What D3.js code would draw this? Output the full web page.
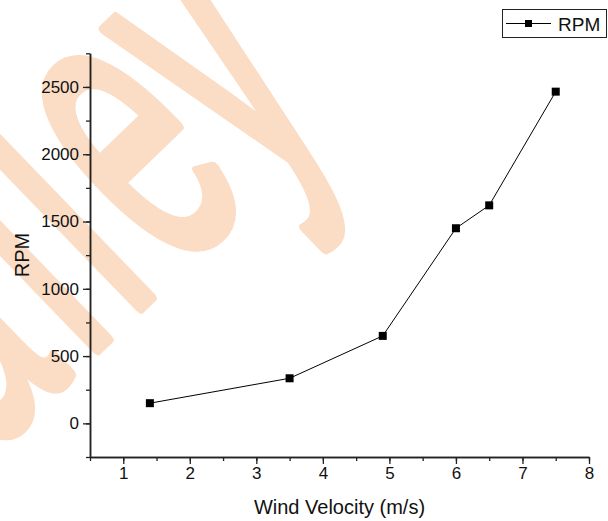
<!DOCTYPE html>
<html>
<head>
<meta charset="utf-8">
<script src="https://cdnjs.cloudflare.com/ajax/libs/d3/7.8.5/d3.min.js"></script>
<style>
  body { margin: 0; background: #fff; }
  svg { display: block; font-family: "Liberation Sans", Arial, sans-serif; }
</style>
</head>
<body>
<svg id="chart"></svg>
<script>
// chart data
var velocity = [1.4, 3.5, 4.9, 6.0, 6.5, 7.5];
var rpm = [150, 335, 650, 1450, 1620, 2465];
var xMajor = [1, 2, 3, 4, 5, 6, 7, 8];
var yMajor = [0, 500, 1000, 1500, 2000, 2500];
var xMinor = d3.range(0.5, 8.01, 0.5);
var yMinor = d3.range(-250, 2751, 250);
var seriesName = 'RPM';
var watermark = ['V', 'a', 'l', 'l', 'e', 'y'];
var watermarkX = [-930, -647, -375, -255, -130, 108];

var width = 608,
    height = 521,
    axisColor = '#222',
    wmColor = '#fbdcc5';

var svg = d3.select('#chart')
  .attr('width', width)
  .attr('height', height);

// faint background watermark: tall, narrow letters, rotated
var wm = svg.append('g')
  .attr('transform', 'translate(220,230) rotate(-44) scale(0.5,1)')
  .append('text')
    .attr('y', 0)
    .attr('font-size', 424)
    .attr('fill', wmColor)
    .attr('stroke', wmColor)
    .attr('stroke-width', 10)
    .attr('stroke-linejoin', 'round')
    .attr('vector-effect', 'non-scaling-stroke');
wm.selectAll('tspan')
  .data(watermark)
  .enter().append('tspan')
    .attr('x', function (d, i) { return watermarkX[i]; })
    .attr('vector-effect', 'non-scaling-stroke')
    .text(function (d) { return d; });

var x = d3.scaleLinear().domain([0.5, 8]).range([90, 589]);
var y = d3.scaleLinear().domain([-250, 2750]).range([457, 53.3]);

function styleAxis(g) {
  g.selectAll('.domain').attr('stroke', axisColor).attr('stroke-width', 1.5);
  g.selectAll('.tick line').attr('stroke', axisColor).attr('stroke-width', 1.3);
  g.selectAll('.tick text').attr('fill', '#111').attr('font-size', 17);
  g.attr('font-family', null);
}

// minor ticks
svg.append('g')
  .attr('transform', 'translate(0,457)')
  .call(d3.axisBottom(x).tickValues(xMinor).tickSize(4).tickFormat('').tickSizeOuter(0))
  .call(styleAxis);
svg.append('g')
  .attr('transform', 'translate(90,0)')
  .call(d3.axisLeft(y).tickValues(yMinor).tickSize(4).tickFormat('').tickSizeOuter(0))
  .call(styleAxis);

// major ticks
svg.append('g')
  .attr('transform', 'translate(0,457)')
  .call(d3.axisBottom(x).tickValues(xMajor).tickSize(7).tickPadding(3).tickSizeOuter(0))
  .call(styleAxis);
svg.append('g')
  .attr('transform', 'translate(90,0)')
  .call(d3.axisLeft(y).tickValues(yMajor).tickSize(7).tickPadding(4)
    .tickFormat(d3.format('d')).tickSizeOuter(0))
  .call(styleAxis);

// axis titles
svg.append('text')
  .attr('x', 339.5)
  .attr('y', 514)
  .attr('text-anchor', 'middle')
  .attr('font-size', 20)
  .attr('fill', '#111')
  .text('Wind Velocity (m/s)');

svg.append('text')
  .attr('transform', 'translate(29,255) rotate(-90)')
  .attr('text-anchor', 'middle')
  .attr('font-size', 20)
  .attr('fill', '#111')
  .text('RPM');

// series
var pts = velocity.map(function (v, i) { return [v, rpm[i]]; });

svg.append('path')
  .datum(pts)
  .attr('fill', 'none')
  .attr('stroke', '#000')
  .attr('stroke-width', 1)
  .attr('d', d3.line()
    .x(function (d) { return x(d[0]); })
    .y(function (d) { return y(d[1]); }));

var s = 8;
svg.selectAll('rect.pt')
  .data(pts)
  .enter().append('rect')
    .attr('class', 'pt')
    .attr('x', function (d) { return x(d[0]) - s / 2; })
    .attr('y', function (d) { return y(d[1]) - s / 2; })
    .attr('width', s)
    .attr('height', s)
    .attr('fill', '#000');

// legend
var legend = svg.append('g');
legend.append('rect')
  .attr('x', 502.5)
  .attr('y', 9.5)
  .attr('width', 104)
  .attr('height', 28)
  .attr('fill', '#fff')
  .attr('stroke', axisColor)
  .attr('stroke-width', 1);
legend.append('line')
  .attr('x1', 506).attr('x2', 551)
  .attr('y1', 23.5).attr('y2', 23.5)
  .attr('stroke', '#000')
  .attr('stroke-width', 1);
legend.append('rect')
  .attr('x', 525).attr('y', 20)
  .attr('width', 7).attr('height', 7)
  .attr('fill', '#000');
legend.append('text')
  .attr('x', 558)
  .attr('y', 30.5)
  .attr('font-size', 19)
  .attr('fill', '#111')
  .text(seriesName);
</script>
</body>
</html>
